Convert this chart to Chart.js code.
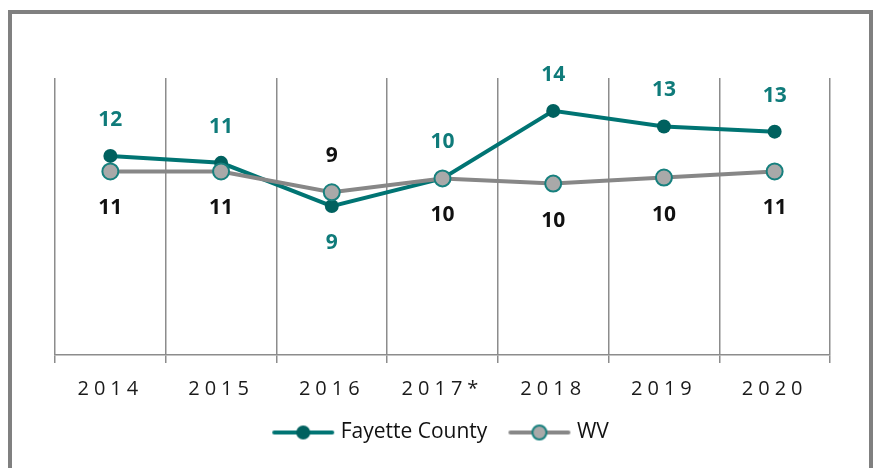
<!DOCTYPE html>
<html>
<head>
<meta charset="utf-8">
<script src="https://cdn.jsdelivr.net/npm/chart.js@4.4.0/dist/chart.umd.min.js"></script>
<style>
  html, body { margin: 0; padding: 0; background: #fff; }
  #wrap { position: relative; width: 874px; height: 468px; overflow: hidden; }
  #frame { position: absolute; left: 8px; top: 10px; width: 857px; height: 480px; border: 4px solid #808080; }
  #c { position: absolute; left: 0; top: 0; }
</style>
</head>
<body>
<div id="wrap">
  <div id="frame"></div>
  <canvas id="c" width="874" height="468"></canvas>
</div>
<script>
// data
var years = ["2014", "2015", "2016", "2017*", "2018", "2019", "2020"];
var fayette = [11.5, 11.1, 8.6, 10.2, 14.1, 13.2, 12.9];
var wv = [10.6, 10.6, 9.4, 10.2, 9.9, 10.25, 10.6];
// where each value label sits relative to its point
var fayettePos = ["top", "top", "bottom", "top", "top", "top", "top"];
var wvPos = ["bottom", "bottom", "top", "bottom", "bottom", "bottom", "bottom"];

var teal = '#007473';
var tealDark = '#00615f';
var tealText = '#0f7b7a';
var grey = '#878787';
var greyFill = '#a9a9a9';

// little line+marker icons for the legend
function legendIcon(lineColor, fill, stroke) {
    var cv = document.createElement('canvas');
    cv.width = 64; cv.height = 20;
    var g = cv.getContext('2d');
    g.strokeStyle = lineColor;
    g.lineWidth = 4;
    g.lineCap = 'round';
    g.beginPath(); g.moveTo(3, 10); g.lineTo(61, 10); g.stroke();
    g.beginPath(); g.arc(32, 10, 7, 0, Math.PI * 2);
    g.fillStyle = fill; g.fill();
    if (stroke) { g.lineWidth = 2; g.strokeStyle = stroke; g.stroke(); }
    return cv;
}
var iconFay = legendIcon(teal, tealDark, null);
var iconWv = legendIcon(grey, greyFill, '#17807e');

// spaced-out year labels: ticks are drawn on a layer after the datasets
var spacing = {
    id: 'spacing',
    afterDatasetsDraw: function(chart) { chart.ctx.letterSpacing = '5px'; },
    afterDraw: function(chart) { chart.ctx.letterSpacing = '0px'; }
};

var valueLabels = {
    id: 'valueLabels',
    afterDatasetsDraw: function(chart) {
        var ctx = chart.ctx;
        var sets = [
            { idx: 0, pos: fayettePos, color: tealText },
            { idx: 1, pos: wvPos, color: '#111111' }
        ];
        ctx.save();
        ctx.letterSpacing = '0px';
        ctx.font = 'bold 21px "Open Sans"';
        ctx.textAlign = 'center';
        ctx.textBaseline = 'middle';
        sets.forEach(function(s) {
            var meta = chart.getDatasetMeta(s.idx);
            var vals = chart.data.datasets[s.idx].data;
            meta.data.forEach(function(pt, i) {
                var dy = s.pos[i] === 'top' ? -36 : 37;
                ctx.fillStyle = s.color;
                ctx.fillText(String(Math.round(vals[i])), pt.x, pt.y + dy);
            });
        });
        ctx.restore();
    }
};

var ctx = document.getElementById('c');
var chart = new Chart(ctx, {
    type: 'line',
    data: {
        labels: years,
        datasets: [
            {
                label: 'Fayette County',
                data: fayette,
                borderColor: teal,
                borderWidth: 4,
                pointRadius: 7,
                pointBackgroundColor: tealDark,
                pointBorderColor: tealDark,
                pointBorderWidth: 0,
                order: 2
            },
            {
                label: 'WV',
                data: wv,
                borderColor: grey,
                borderWidth: 4,
                pointRadius: 8,
                pointBackgroundColor: greyFill,
                pointBorderColor: '#17807e',
                pointBorderWidth: 2,
                order: 1
            }
        ]
    },
    options: {
        responsive: false,
        animation: false,
        layout: { padding: { top: 78, left: 55, right: 44, bottom: 15 } },
        scales: {
            x: {
                offset: true,
                afterFit: function(scale) { scale.height -= 18; },
                grid: { offset: true, color: '#8c8c8c', lineWidth: 1.5, tickLength: 8, drawOnChartArea: true },
                border: { display: true, color: '#8c8c8c', width: 1.5 },
                ticks: { z: 1, color: '#1a1a1a', font: { family: 'Open Sans', size: 20 }, padding: 14, maxRotation: 0 }
            },
            y: { display: false, min: 0, max: 16 }
        },
        plugins: {
            tooltip: { enabled: false },
            legend: {
                position: 'bottom',
                labels: {
                    usePointStyle: true,
                    pointStyleWidth: 54,
                    color: '#111',
                    padding: 25,
                    font: { family: 'Open Sans', size: 21 },
                    generateLabels: function(ch) {
                        return [
                            { text: 'Fayette County', pointStyle: iconFay, datasetIndex: 0, fillStyle: teal, strokeStyle: teal, lineWidth: 0, fontColor: '#111' },
                            { text: 'WV', pointStyle: iconWv, datasetIndex: 1, fillStyle: grey, strokeStyle: grey, lineWidth: 0, fontColor: '#111' }
                        ];
                    }
                }
            }
        }
    },
    plugins: [spacing, valueLabels]
});
</script>
</body>
</html>
